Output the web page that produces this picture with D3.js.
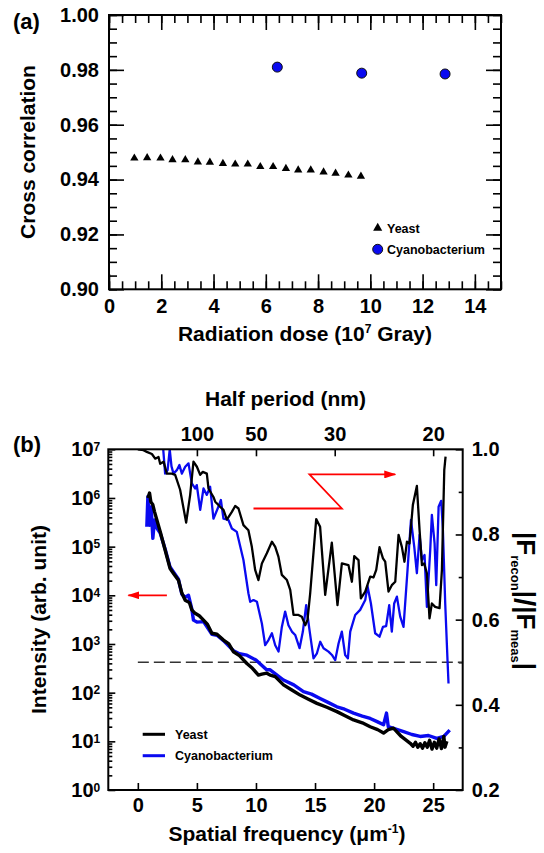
<!DOCTYPE html>
<html>
<head>
<meta charset="utf-8">
<script src="https://cdn.jsdelivr.net/npm/d3@7"></script>
<style>
body { margin: 0; background: #fff; }
svg text { font-family: "Liberation Sans", Arial, sans-serif; font-weight: bold; fill: #000; }
</style>
</head>
<body>
<svg id="fig" width="544" height="853"></svg>
<script>
// ---- panel (a) : cross correlation vs dose
var doseYeast = [0.97, 1.46, 1.97, 2.43, 2.92, 3.40, 3.86, 4.36, 4.83, 5.31, 5.79, 6.28, 6.77, 7.24, 7.72, 8.21, 8.67, 9.16, 9.64];
var corrYeast = [0.9478, 0.9479, 0.9478, 0.9472, 0.9472, 0.9464, 0.9463, 0.9458, 0.9456, 0.9456, 0.9447, 0.9447, 0.9440, 0.9435, 0.9435, 0.9427, 0.9423, 0.9416, 0.9412];
var doseCyano = [6.44, 9.67, 12.86];
var corrCyano = [0.9810, 0.9788, 0.9785];
var doseTicks = [0, 2, 4, 6, 8, 10, 12, 14];
var corrTicks = [0.90, 0.92, 0.94, 0.96, 0.98, 1.00];

// ---- panel (b) : intensity (log10) and |Frecon|/|Fmeas| vs spatial frequency
var freqYeastI = [0.85, 0.99, 1.10, 1.27, 1.41, 1.61, 1.89, 2.31, 2.73, 3.02, 3.44, 3.73, 4.01, 4.37, 4.57, 4.85, 5.2, 5.56, 5.9, 6.27, 6.7, 7.25, 7.7, 8.10, 8.6, 9.23, 9.7, 10.21, 10.5, 10.92, 11.2, 11.63, 12.33, 13.0, 13.74, 14.4, 15.16, 16.0, 16.85, 17.5, 18.26, 19.0, 19.67, 20.3, 20.80, 21.2, 21.64, 22.3, 23.06, 23.3, 23.5, 23.7, 23.9, 24.1, 24.3, 24.5, 24.7, 24.9, 25.1, 25.3, 25.5, 25.7, 25.9, 26.0, 26.16];
var logYeastI = [6.00, 6.10, 5.92, 5.86, 5.72, 5.55, 5.31, 4.93, 4.55, 4.45, 4.31, 4.04, 3.90, 3.85, 3.70, 3.63, 3.58, 3.49, 3.40, 3.22, 3.20, 3.08, 3.00, 2.84, 2.76, 2.60, 2.50, 2.36, 2.38, 2.40, 2.36, 2.33, 2.16, 2.06, 1.95, 1.87, 1.78, 1.70, 1.61, 1.53, 1.44, 1.38, 1.30, 1.24, 1.17, 1.24, 1.27, 1.10, 0.96, 0.90, 0.98, 0.88, 0.95, 0.86, 0.97, 0.88, 1.02, 0.84, 0.98, 0.86, 1.05, 0.85, 1.10, 0.88, 1.00];
var freqCyanoI = [0.76, 0.85, 0.98, 1.13, 1.27, 1.41, 1.61, 1.89, 2.31, 2.73, 3.02, 3.44, 3.73, 4.01, 4.29, 4.57, 4.71, 5.0, 5.56, 6.27, 6.7, 7.25, 8.10, 8.6, 9.23, 10.0, 10.9, 11.2, 12.33, 13.2, 14.02, 14.7, 15.43, 16.1, 16.85, 17.5, 18.26, 19.0, 19.67, 20.3, 20.8, 21.05, 21.2, 22.5, 23.2, 23.9, 24.6, 25.3, 25.9, 26.4];
var logCyanoI = [5.41, 6.03, 5.44, 5.82, 5.17, 5.55, 5.38, 5.28, 4.95, 4.58, 4.48, 4.33, 4.02, 3.96, 4.00, 3.72, 3.49, 3.45, 3.46, 3.20, 3.18, 3.07, 2.86, 2.80, 2.77, 2.67, 2.47, 2.47, 2.26, 2.16, 2.02, 1.97, 1.88, 1.80, 1.71, 1.66, 1.58, 1.52, 1.47, 1.40, 1.34, 1.58, 1.30, 1.20, 1.14, 1.10, 1.12, 1.06, 1.10, 1.23];
var freqYeastR = [0.00, 0.48, 0.76, 1.19, 1.47, 1.75, 1.89, 2.18, 2.46, 2.88, 3.16, 3.58, 4.09, 4.43, 4.71, 5.00, 5.28, 5.50, 5.84, 5.98, 6.40, 6.55, 6.97, 7.25, 7.54, 7.96, 8.24, 8.52, 8.94, 9.36, 9.65, 9.93, 10.21, 10.50, 10.92, 11.35, 11.63, 11.90, 12.19, 12.62, 12.90, 13.18, 13.60, 13.88, 14.17, 14.36, 14.59, 15.10, 15.43, 15.86, 16.42, 16.90, 17.27, 17.83, 18.12, 18.32, 18.68, 18.88, 19.25, 19.67, 19.95, 20.18, 20.46, 20.75, 20.94, 21.22, 21.50, 21.79, 22.07, 22.35, 22.57, 22.78, 23.00, 23.28, 23.62, 23.85, 24.05, 24.24, 24.47, 24.69, 24.89, 25.17, 25.54, 25.74, 25.94, 26.05];
var ratioYeast = [1.000, 0.998, 0.994, 0.989, 0.978, 0.982, 0.966, 0.971, 0.943, 0.943, 0.940, 0.905, 0.828, 0.893, 0.971, 0.959, 0.940, 0.947, 0.943, 0.908, 0.888, 0.877, 0.865, 0.858, 0.835, 0.853, 0.867, 0.861, 0.822, 0.810, 0.771, 0.717, 0.693, 0.732, 0.756, 0.783, 0.771, 0.748, 0.705, 0.693, 0.670, 0.611, 0.611, 0.607, 0.587, 0.599, 0.662, 0.836, 0.818, 0.658, 0.781, 0.634, 0.732, 0.728, 0.689, 0.749, 0.740, 0.650, 0.666, 0.701, 0.699, 0.717, 0.770, 0.744, 0.736, 0.666, 0.681, 0.689, 0.799, 0.771, 0.736, 0.783, 0.779, 0.869, 0.914, 0.810, 0.728, 0.732, 0.709, 0.603, 0.638, 0.630, 0.627, 0.717, 0.951, 0.983];
var freqCyanoR = [2.15, 2.31, 2.52, 2.70, 2.85, 3.02, 3.30, 3.52, 3.73, 4.01, 4.29, 4.57, 4.85, 4.99, 5.28, 5.56, 5.84, 6.12, 6.40, 6.82, 7.03, 7.25, 7.67, 7.96, 8.38, 8.94, 9.36, 9.51, 9.79, 10.08, 10.50, 10.78, 11.06, 11.35, 11.63, 11.91, 12.19, 12.47, 12.75, 13.04, 13.32, 13.69, 13.97, 14.25, 14.53, 14.87, 15.16, 15.44, 15.72, 16.14, 16.43, 16.71, 16.99, 17.27, 17.55, 17.78, 17.98, 18.40, 18.82, 19.25, 19.44, 19.73, 20.09, 20.46, 20.75, 21.02, 21.28, 21.50, 21.70, 21.93, 22.21, 22.49, 22.83, 23.12, 23.40, 23.62, 23.85, 24.05, 24.27, 24.47, 24.75, 24.89, 25.12, 25.26, 25.46, 25.68, 25.82, 26.02, 26.22, 26.30];
var ratioCyano = [1.000, 0.943, 0.951, 1.000, 0.960, 0.943, 0.951, 0.963, 0.943, 0.959, 0.967, 0.920, 0.908, 0.916, 0.858, 0.908, 0.893, 0.912, 0.837, 0.865, 0.881, 0.837, 0.834, 0.814, 0.806, 0.740, 0.662, 0.642, 0.646, 0.642, 0.591, 0.540, 0.552, 0.568, 0.540, 0.525, 0.583, 0.619, 0.587, 0.572, 0.564, 0.533, 0.572, 0.634, 0.576, 0.509, 0.521, 0.548, 0.533, 0.525, 0.517, 0.505, 0.544, 0.572, 0.517, 0.509, 0.572, 0.611, 0.623, 0.646, 0.679, 0.638, 0.568, 0.560, 0.583, 0.585, 0.634, 0.572, 0.638, 0.654, 0.607, 0.583, 0.717, 0.834, 0.771, 0.709, 0.799, 0.740, 0.752, 0.630, 0.763, 0.846, 0.779, 0.681, 0.865, 0.879, 0.814, 0.638, 0.501, 0.450];
var freqTicks = [0, 5, 10, 15, 20, 25];
var halfPeriodTicks = [100, 50, 30, 20];
var ratioTicks = [0.2, 0.4, 0.6, 0.8, 1.0];
var ratioThreshold = 0.5;
// arrow annotations (data coords)
var arrowLeft = [[2.46, 1e4], [-0.80, 1e4]];
var arrowRight = [[9.79, 0.861], [17.27, 0.861], [14.53, 0.941], [21.79, 0.941]];

var svg = d3.select("#fig");
var red = "#ff0000", blue = "#0a0af0";

svg.append("defs").append("marker")
    .attr("id", "ah").attr("viewBox", "0 0 12 8")
    .attr("refX", 11).attr("refY", 4)
    .attr("markerWidth", 12).attr("markerHeight", 8)
    .attr("markerUnits", "userSpaceOnUse").attr("orient", "auto")
    .append("path").attr("d", "M0,0L12,4L0,8Z").attr("fill", red);

function styleAxis(g) {
    g.select(".domain").remove();
    g.selectAll("line").attr("stroke", "#000").attr("stroke-width", 1.6);
    g.selectAll("text").style("font-size", "20px");
}

// ================= panel (a)
var xa = d3.scaleLinear().domain([0, 15]).range([109, 501]);
var ya = d3.scaleLinear().domain([0.90, 1.00]).range([289.3, 15]);
var ga = svg.append("g");
var minorDose = d3.range(0, 15.01, 0.5);
var minorCorr = d3.range(0.90, 1.0001, 0.005);

ga.append("g").attr("transform", "translate(0," + ya.range()[0] + ")")
    .call(d3.axisBottom(xa).tickValues(minorDose).tickSize(-8).tickFormat("")).call(styleAxis);
ga.append("g").attr("transform", "translate(0," + ya.range()[0] + ")")
    .call(d3.axisBottom(xa).tickValues(doseTicks).tickSizeInner(-15).tickSizeOuter(0).tickPadding(10)).call(styleAxis);
ga.append("g").attr("transform", "translate(0," + ya.range()[1] + ")")
    .call(d3.axisTop(xa).tickValues(minorDose).tickSize(-8).tickFormat("")).call(styleAxis);
ga.append("g").attr("transform", "translate(0," + ya.range()[1] + ")")
    .call(d3.axisTop(xa).tickValues(doseTicks).tickSize(-15).tickFormat("")).call(styleAxis);
ga.append("g").attr("transform", "translate(" + xa.range()[0] + ",0)")
    .call(d3.axisLeft(ya).tickValues(minorCorr).tickSize(-8).tickFormat("")).call(styleAxis);
ga.append("g").attr("transform", "translate(" + xa.range()[0] + ",0)")
    .call(d3.axisLeft(ya).tickValues(corrTicks).tickSizeInner(-15).tickSizeOuter(0).tickPadding(10).tickFormat(d3.format(".2f"))).call(styleAxis);
ga.append("g").attr("transform", "translate(" + xa.range()[1] + ",0)")
    .call(d3.axisRight(ya).tickValues(minorCorr).tickSize(-8).tickFormat("")).call(styleAxis);
ga.append("g").attr("transform", "translate(" + xa.range()[1] + ",0)")
    .call(d3.axisRight(ya).tickValues(corrTicks).tickSize(-15).tickFormat("")).call(styleAxis);

ga.append("rect").attr("x", xa.range()[0]).attr("y", ya.range()[1])
    .attr("width", xa.range()[1] - xa.range()[0]).attr("height", ya.range()[0] - ya.range()[1])
    .attr("fill", "none").attr("stroke", "#000").attr("stroke-width", 2);

var tri = d3.symbol().type(d3.symbolTriangle).size(30);
ga.selectAll(".yeast").data(doseYeast).enter().append("path")
    .attr("d", tri)
    .attr("transform", function (d, i) { return "translate(" + xa(d) + "," + ya(corrYeast[i]) + ")"; })
    .attr("fill", "#000");
ga.selectAll(".cyano").data(doseCyano).enter().append("circle")
    .attr("cx", function (d) { return xa(d); })
    .attr("cy", function (d, i) { return ya(corrCyano[i]); })
    .attr("r", 5).attr("fill", blue).attr("stroke", "#111").attr("stroke-width", 1);

// legend (a)
ga.append("path").attr("d", d3.symbol().type(d3.symbolTriangle).size(36))
    .attr("transform", "translate(377.7,228)").attr("fill", "#000");
ga.append("text").attr("x", 387).attr("y", 232.5).style("font-size", "12.5px").text("Yeast");
ga.append("circle").attr("cx", 377.7).attr("cy", 249.3).attr("r", 5)
    .attr("fill", blue).attr("stroke", "#111").attr("stroke-width", 1);
ga.append("text").attr("x", 387).attr("y", 254).style("font-size", "12.5px").text("Cyanobacterium");

ga.append("text").attr("x", 13).attr("y", 29).style("font-size", "22px").text("(a)");
ga.append("text").attr("transform", "translate(35,152) rotate(-90)")
    .attr("text-anchor", "middle").style("font-size", "21px").text("Cross correlation");
var ta = ga.append("text").attr("x", 305).attr("y", 341)
    .attr("text-anchor", "middle").style("font-size", "21px");
ta.append("tspan").text("Radiation dose (10");
ta.append("tspan").attr("dy", -8).style("font-size", "12px").text("7");
ta.append("tspan").attr("dy", 8).text(" Gray)");

// ================= panel (b)
var xb = d3.scaleLinear().domain([-2.5, 27.5]).range([108.3, 462.7]);
var yb = d3.scaleLog().domain([1, 1e7]).range([790, 449.3]);
var yr = d3.scaleLinear().domain([0.2, 1.0]).range([790, 449.3]);
var gb = svg.append("g");

svg.select("defs").append("clipPath").attr("id", "clipb").append("rect")
    .attr("x", xb.range()[0]).attr("y", yb.range()[1])
    .attr("width", xb.range()[1] - xb.range()[0]).attr("height", yb.range()[0] - yb.range()[1]);

var minorLog = [];
for (var e = 0; e < 7; e++) for (var k = 2; k < 10; k++) minorLog.push(k * Math.pow(10, e));
var ratioMinor = [0.3, 0.5, 0.7, 0.9];

gb.append("g").attr("transform", "translate(0," + yb.range()[0] + ")")
    .call(d3.axisBottom(xb).tickValues(freqTicks).tickSizeInner(-7).tickSizeOuter(0).tickPadding(8)).call(styleAxis);
gb.append("g").attr("transform", "translate(0," + yb.range()[1] + ")")
    .call(d3.axisTop(xb).tickValues(halfPeriodTicks.map(function (h) { return 1000 / (2 * h); }))
        .tickSizeInner(-7).tickSizeOuter(0).tickPadding(8)
        .tickFormat(function (d, i) { return halfPeriodTicks[i]; })).call(styleAxis);
gb.append("g").attr("transform", "translate(" + xb.range()[0] + ",0)")
    .call(d3.axisLeft(yb).tickValues(minorLog).tickSize(-4).tickFormat("")).call(styleAxis);
var yAxisL = gb.append("g").attr("transform", "translate(" + xb.range()[0] + ",0)")
    .call(d3.axisLeft(yb).tickValues(d3.range(0, 8).map(function (n) { return Math.pow(10, n); }))
        .tickSizeInner(-7).tickSizeOuter(0).tickPadding(8)).call(styleAxis);
yAxisL.selectAll(".tick text").each(function (d) {
    var t = d3.select(this).text("");
    t.append("tspan").text("10");
    t.append("tspan").attr("dy", "-0.45em").style("font-size", "12px").text(Math.round(Math.log10(d)));
});
gb.append("g").attr("transform", "translate(" + xb.range()[1] + ",0)")
    .call(d3.axisRight(yr).tickValues(ratioMinor).tickSize(-4).tickFormat("")).call(styleAxis);
gb.append("g").attr("transform", "translate(" + xb.range()[1] + ",0)")
    .call(d3.axisRight(yr).tickValues(ratioTicks).tickSizeInner(-7).tickSizeOuter(0).tickPadding(9)
        .tickFormat(d3.format(".1f"))).call(styleAxis);

var plot = gb.append("g").attr("clip-path", "url(#clipb)");

plot.append("line")
    .attr("x1", xb(0)).attr("x2", xb.range()[1])
    .attr("y1", yr(ratioThreshold)).attr("y2", yr(ratioThreshold))
    .attr("stroke", "#333").attr("stroke-width", 1.5).attr("stroke-dasharray", "11,5");

var lineI = d3.line().x(function (d) { return xb(d[0]); }).y(function (d) { return yb(Math.pow(10, d[1])); });
var lineR = d3.line().x(function (d) { return xb(d[0]); }).y(function (d) { return yr(d[1]); });
function pairs(a, b) { return a.map(function (v, i) { return [v, b[i]]; }); }

plot.append("path").datum(pairs(freqCyanoR, ratioCyano)).attr("d", lineR)
    .attr("fill", "none").attr("stroke", blue).attr("stroke-width", 2.3).attr("stroke-linejoin", "round");
plot.append("path").datum(pairs(freqYeastR, ratioYeast)).attr("d", lineR)
    .attr("fill", "none").attr("stroke", "#000").attr("stroke-width", 2.3).attr("stroke-linejoin", "round");
plot.append("path").datum(pairs(freqCyanoI, logCyanoI)).attr("d", lineI)
    .attr("fill", "none").attr("stroke", blue).attr("stroke-width", 3.4).attr("stroke-linejoin", "round");
plot.append("path").datum(pairs(freqYeastI, logYeastI)).attr("d", lineI)
    .attr("fill", "none").attr("stroke", "#000").attr("stroke-width", 3.4).attr("stroke-linejoin", "round");

// arrows
gb.append("path")
    .attr("d", d3.line()(arrowLeft.map(function (p) { return [xb(p[0]), yb(p[1])]; })))
    .attr("fill", "none").attr("stroke", red).attr("stroke-width", 1.8).attr("marker-end", "url(#ah)");
gb.append("path")
    .attr("d", d3.line()(arrowRight.map(function (p) { return [xb(p[0]), yr(p[1])]; })))
    .attr("fill", "none").attr("stroke", red).attr("stroke-width", 1.8).attr("marker-end", "url(#ah)");

gb.append("rect").attr("x", xb.range()[0]).attr("y", yb.range()[1])
    .attr("width", xb.range()[1] - xb.range()[0]).attr("height", yb.range()[0] - yb.range()[1])
    .attr("fill", "none").attr("stroke", "#000").attr("stroke-width", 2);

// legend (b)
gb.append("line").attr("x1", 142.7).attr("x2", 165).attr("y1", 734.3).attr("y2", 734.3)
    .attr("stroke", "#000").attr("stroke-width", 3);
gb.append("text").attr("x", 175).attr("y", 739).style("font-size", "12.5px").text("Yeast");
gb.append("line").attr("x1", 142.7).attr("x2", 165).attr("y1", 755.7).attr("y2", 755.7)
    .attr("stroke", blue).attr("stroke-width", 3);
gb.append("text").attr("x", 175).attr("y", 760.4).style("font-size", "12.5px").text("Cyanobacterium");

gb.append("text").attr("x", 13).attr("y", 452).style("font-size", "22px").text("(b)");
gb.append("text").attr("x", 285.5).attr("y", 406).attr("text-anchor", "middle")
    .style("font-size", "21px").text("Half period (nm)");
var tb = gb.append("text").attr("x", 287).attr("y", 841).attr("text-anchor", "middle").style("font-size", "21px");
tb.append("tspan").text("Spatial frequency (\u03bcm");
tb.append("tspan").attr("dy", -8).style("font-size", "12px").text("-1");
tb.append("tspan").attr("dy", 8).text(")");
gb.append("text").attr("transform", "translate(46,619.5) rotate(-90)")
    .attr("text-anchor", "middle").style("font-size", "21px").text("Intensity (arb. unit)");

var tr = gb.append("text").attr("transform", "translate(517,601) rotate(90)")
    .attr("text-anchor", "middle").style("font-size", "26px");
tr.append("tspan").text("|F");
tr.append("tspan").attr("dy", 6).style("font-size", "13px").text("recon");
tr.append("tspan").attr("dy", -6).text("|");
tr.append("tspan").attr("dy", 3).style("font-size", "30px").text("/");
tr.append("tspan").attr("dy", -3).text("|F");
tr.append("tspan").attr("dy", 6).style("font-size", "13px").text("meas");
tr.append("tspan").attr("dy", -6).text("|");
</script>
</body>
</html>
